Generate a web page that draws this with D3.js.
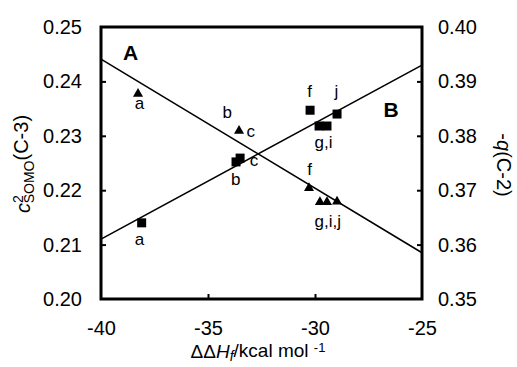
<!DOCTYPE html>
<html>
<head>
<meta charset="utf-8">
<script src="https://cdn.jsdelivr.net/npm/d3@7"></script>
<style>
  body { margin: 0; background: #fff; }
  svg { display: block; font-family: "Liberation Sans", Arial, sans-serif; }
</style>
</head>
<body>
<svg id="chart" width="517" height="367"></svg>
<script>
// Series A (triangles, left axis: c^2 SOMO of C-3)
const triX = [-38.27, -33.55, -30.28, -29.77, -29.44, -28.97];
const triY = [0.2377, 0.2309, 0.2204, 0.2178, 0.2178, 0.2179];

// Series B (squares, right axis: -q(C-2))
const sqX = [-38.1, -33.69, -33.5, -30.23, -29.81, -29.44, -28.97];
const sqY = [0.364, 0.3752, 0.3759, 0.3847, 0.3818, 0.3818, 0.384];

// Fitted lines, endpoints at the x-axis limits
const fitX = [-40, -25];
const fitA = [0.2441, 0.2085];   // left scale
const fitB = [0.3610, 0.3930];   // right scale

// Point labels: [x, y, text, series]
const labels = [
  [-38.2, 0.2357, "a", "A"],
  [-34.1, 0.2341, "b", "A"],
  [-33.0, 0.2306, "c", "A"],
  [-30.25, 0.2236, "f", "A"],
  [-29.4, 0.2141, "g,i,j", "A"],
  [-38.2, 0.3607, "a", "B"],
  [-33.7, 0.3718, "b", "B"],
  [-32.85, 0.3752, "c", "B"],
  [-30.25, 0.3880, "f", "B"],
  [-29.0, 0.3880, "j", "B"],
  [-29.6, 0.3786, "g,i", "B"]
];

const xTicks = [-40, -35, -30, -25];
const leftTicks = [0.20, 0.21, 0.22, 0.23, 0.24, 0.25];
const rightTicks = [0.35, 0.36, 0.37, 0.38, 0.39, 0.40];

const svg = d3.select("#chart");
const plotL = 101, plotR = 422, plotT = 27, plotB = 299;

const x = d3.scaleLinear().domain([-40, -25]).range([plotL, plotR]);
const yL = d3.scaleLinear().domain([0.20, 0.25]).range([plotB, plotT]);
const yR = d3.scaleLinear().domain([0.35, 0.40]).range([plotB, plotT]);

// Axes with inward ticks, only interior ticks drawn
const xAxis = d3.axisBottom(x).tickValues(xTicks).tickSize(-5).tickPadding(22).tickFormat(d => String(d));
const lAxis = d3.axisLeft(yL).tickValues(leftTicks).tickSize(-5).tickPadding(19).tickFormat(d3.format(".2f"));
const rAxis = d3.axisRight(yR).tickValues(rightTicks).tickSize(-5).tickPadding(16).tickFormat(d3.format(".2f"));

function styleAxis(g) {
  g.select(".domain").remove();
  g.selectAll(".tick line").attr("stroke", "#000").attr("stroke-width", 2)
    .attr("opacity", (d, i, n) => (i === 0 || i === n.length - 1) ? 0 : 1);
  g.selectAll(".tick text").attr("fill", "#000").style("font-size", "20px");
}

svg.append("g").attr("transform", `translate(0,${plotB})`).call(xAxis).call(styleAxis);
svg.append("g").attr("transform", `translate(${plotL},0)`).call(lAxis).call(styleAxis);
svg.append("g").attr("transform", `translate(${plotR},0)`).call(rAxis).call(styleAxis);

// Frame
svg.append("rect")
  .attr("x", plotL).attr("y", plotT)
  .attr("width", plotR - plotL).attr("height", plotB - plotT)
  .attr("fill", "none").attr("stroke", "#000").attr("stroke-width", 3);

// Fit lines
const lineA = d3.line().x(d => x(d[0])).y(d => yL(d[1]));
const lineB = d3.line().x(d => x(d[0])).y(d => yR(d[1]));
svg.append("path").datum(d3.zip(fitX, fitA)).attr("d", lineA)
  .attr("fill", "none").attr("stroke", "#000").attr("stroke-width", 1.6);
svg.append("path").datum(d3.zip(fitX, fitB)).attr("d", lineB)
  .attr("fill", "none").attr("stroke", "#000").attr("stroke-width", 1.6);

// Markers
svg.append("g").selectAll("path")
  .data(d3.zip(triX, triY))
  .join("path")
  .attr("transform", d => `translate(${x(d[0])},${yL(d[1])})`)
  .attr("d", d3.symbol(d3.symbolTriangle, 44))
  .attr("fill", "#000");

svg.append("g").selectAll("rect")
  .data(d3.zip(sqX, sqY))
  .join("rect")
  .attr("x", d => x(d[0]) - 4.5).attr("y", d => yR(d[1]) - 4.5)
  .attr("width", 9).attr("height", 9)
  .attr("fill", "#000");

// Point labels
svg.append("g").selectAll("text")
  .data(labels)
  .join("text")
  .attr("x", d => x(d[0]))
  .attr("y", d => (d[3] === "A" ? yL(d[1]) : yR(d[1])))
  .attr("text-anchor", "middle")
  .attr("dominant-baseline", "middle")
  .style("font-size", "17px")
  .text(d => d[2]);

// Panel letters
svg.append("text").attr("x", x(-38.62)).attr("y", yL(0.2449))
  .attr("text-anchor", "middle").attr("dominant-baseline", "middle")
  .style("font-size", "21px").style("font-weight", "bold").text("A");
svg.append("text").attr("x", x(-26.45)).attr("y", yL(0.2344))
  .attr("text-anchor", "middle").attr("dominant-baseline", "middle")
  .style("font-size", "21px").style("font-weight", "bold").text("B");

// Axis titles
const lt = svg.append("text")
  .attr("transform", "translate(30,164) rotate(-90)")
  .attr("text-anchor", "middle")
  .style("font-size", "20px");
lt.append("tspan").style("font-style", "italic").text("c");
lt.append("tspan").attr("dy", "-0.5em").style("font-size", "14px").text("2");
lt.append("tspan").attr("dy", "0.8em").attr("dx", "-8").style("font-size", "14px").text("SOMO");
lt.append("tspan").attr("dy", "-0.3em").text("(C-3)");

const rt = svg.append("text")
  .attr("transform", "translate(497,165) rotate(90)")
  .attr("text-anchor", "middle")
  .style("font-size", "20px");
rt.append("tspan").text("-");
rt.append("tspan").style("font-style", "italic").text("q");
rt.append("tspan").text("(C-2)");

const bt = svg.append("text")
  .attr("x", 258).attr("y", 358)
  .attr("text-anchor", "middle")
  .style("font-size", "19px");
bt.append("tspan").text("ΔΔ");
bt.append("tspan").style("font-style", "italic").text("H");
bt.append("tspan").attr("dy", "0.2em").style("font-size", "14px").style("font-style", "italic").text("f");
bt.append("tspan").attr("dy", "-0.2em").text("/kcal mol ");
bt.append("tspan").attr("dy", "-0.4em").style("font-size", "13px").text("-1");
</script>
</body>
</html>
